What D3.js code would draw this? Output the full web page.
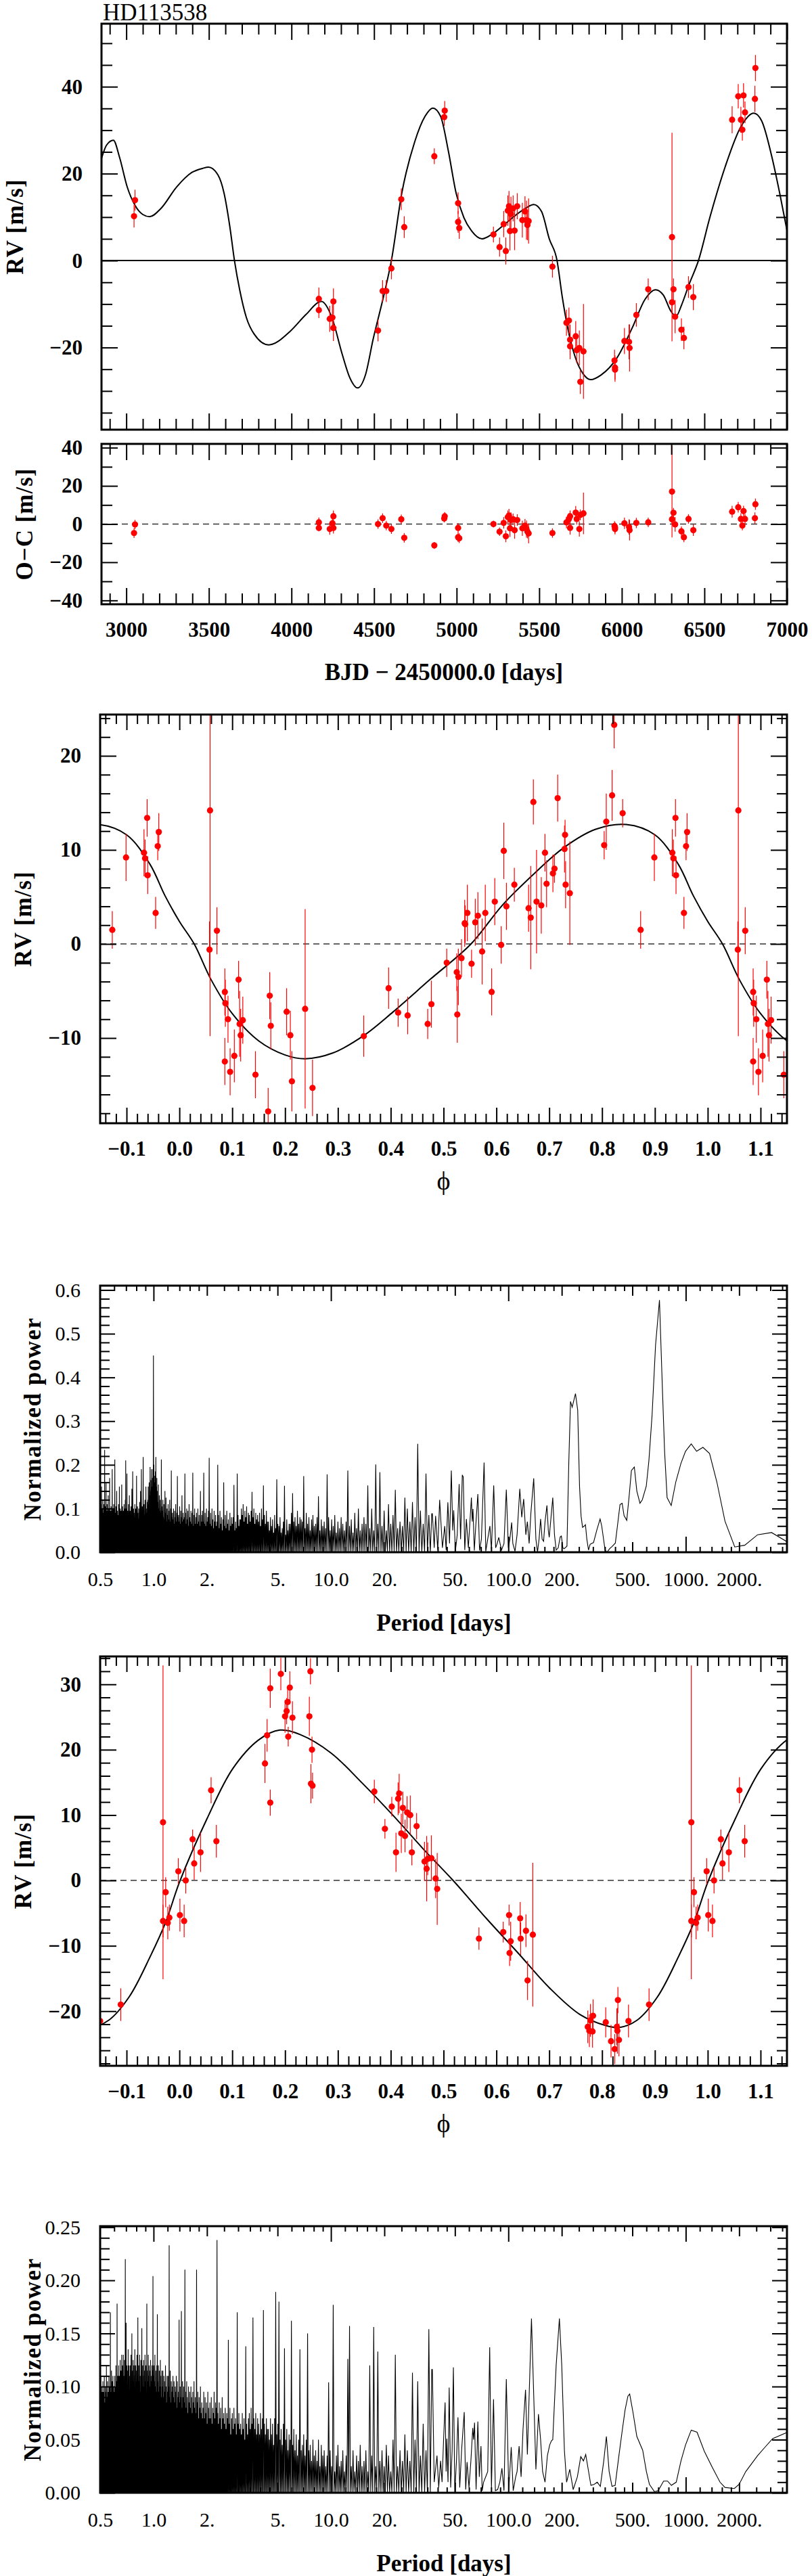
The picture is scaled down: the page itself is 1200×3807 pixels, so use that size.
<!DOCTYPE html>
<html><head><meta charset="utf-8">
<script src="https://d3js.org/d3.v7.min.js"></script>
<style>html,body{margin:0;padding:0;background:#fff;}svg{display:block;}</style>
</head><body>
<svg id="chart" width="1200" height="3807" xmlns="http://www.w3.org/2000/svg"></svg>
<script>
// ================= DATA =================
const title = "HD113538";

// --- RV time series (BJD-2450000, m/s) ---
const rvTime = [3047,3053,4166,4166,4232,4248,4254,4254,4524,4552,4574,4605,4665,4683,4865,4925,4928,5009,5009,5016,5223,5260,5285,5298,5310,5317,5323,5329,5342,5351,5367,5398,5414,5423,5429,5436,5580,5665,5680,5687,5687,5721,5727,5743,5749,5768,5956,5959,5959,6016,6044,6047,6088,6160,6304,6304,6313,6323,6361,6376,6404,6433,6668,6705,6721,6730,6737,6746,6806,6809];
const rvValue = [10.2,13.9,-8.8,-11.4,-13.4,-13.1,-15.5,-9.4,-16.1,-7.0,-7.0,-1.8,14.1,7.7,24.0,33.0,34.5,13.2,8.9,7.5,6.0,3.1,8.4,2.2,11.5,12.5,6.8,10.7,12.0,6.9,12.5,9.3,11.3,9.3,8.2,9.1,-1.4,-14.3,-13.8,-18.2,-19.7,-17.4,-20.6,-20.1,-27.9,-20.9,-23.0,-24.6,-25.1,-18.5,-18.7,-20.1,-12.5,-6.6,5.4,-9.6,-6.6,-12.9,-15.9,-17.8,-6.1,-8.4,32.4,37.8,32.4,30.1,38.0,34.1,37.2,44.3];
const rvError = [2.6,2.4,2.6,1.8,3.0,3.0,3.0,3.0,2.5,2.5,2.5,2.5,2.5,2.5,1.8,2.0,2.2,2.5,2.5,2.5,1.8,2.2,3.0,3.1,3.5,3.5,4.5,4.0,3.0,4.5,3.0,4.0,3.5,4.5,3.5,5.2,2.5,3.0,3.0,3.5,3.0,3.5,3.0,4.0,2.8,10.9,2.5,2.8,2.8,3.0,4.0,5.4,2.7,2.5,24,2.5,2.5,3.8,2.6,2.6,2.5,3.0,3.1,2.8,3.0,2.5,2.8,2.5,3.0,3.0];
const ocValue = [-4.7,-0.2,0.9,-2.0,-2.6,0.4,-2.0,4.1,0.0,3.1,-0.8,-2.6,2.5,-7.2,-11.2,2.9,4.1,-2.0,-6.9,-7.4,0.0,-4.0,0.6,-6.4,3.6,4.5,-2.2,2.1,2.5,-3.2,2.1,-2.2,-0.8,-2.6,-4.0,-4.9,-4.7,0.9,2.7,-2.0,4.1,6.0,2.7,-2.6,4.8,5.6,-1.0,-2.6,-1.8,0.4,-1.5,-3.2,0.6,0.9,17.0,2.5,5.9,-0.2,-3.8,-6.9,2.7,-3.2,6.5,8.8,2.7,-0.8,6.8,2.7,3.1,10.4];
// two-planet model curve
const modelTime = [2850,2881,2922,2959,3006,3053,3100,3141,3210,3304,3398,3461,3498,3555,3592,3627,3655,3687,3727,3774,3862,3994,4088,4182,4245,4307,4354,4401,4448,4495,4558,4605,4668,4746,4809,4856,4903,4950,4997,5044,5091,5154,5216,5295,5373,5420,5467,5514,5561,5608,5639,5671,5718,5765,5812,5875,5969,6063,6141,6204,6251,6298,6329,6361,6408,6464,6533,6627,6721,6799,6846,6909,6956,7003];
const modelValue = [23.5,26.6,27.7,23.8,16.9,12.7,10.6,10.1,12.0,16.9,20.3,21.2,21.5,19.7,15.5,7.8,0,-6.8,-13.1,-16.9,-19.4,-16.2,-12.4,-9.4,-13.1,-21.5,-27.0,-29.3,-26.3,-18.0,-8.2,0,15.5,27.3,33.2,35.1,33.2,25.2,15.5,9.9,6.8,5.0,6.1,8.5,10.9,12.1,12.9,11.3,5.0,0,-8.2,-15.2,-22.2,-26.0,-27.4,-26.3,-22.5,-15.5,-8.9,-6.7,-7.9,-11.7,-12.8,-10.3,-5.4,0,9.9,21.7,30.8,33.9,32.2,23.8,15.5,6.4];
const timeTicks = [3000,3500,4000,4500,5000,5500,6000,6500,7000];
const rvTicks = [-20,0,20,40];
const ocTicks = [-40,-20,0,20,40];

// --- phase-folded planet 1 ---
const ph1Phase = [0.057,0.058,0.071,0.086,0.087,0.086,0.092,0.096,0.104,0.112,0.114,0.116,0.12,0.144,0.168,0.171,0.173,0.203,0.21,0.213,0.238,0.252,0.349,0.396,0.414,0.432,0.47,0.477,0.506,0.525,0.528,0.526,0.534,0.54,0.545,0.541,0.553,0.56,0.565,0.573,0.579,0.591,0.597,0.609,0.614,0.619,0.634,0.661,0.665,0.67,0.676,0.685,0.692,0.695,0.707,0.71,0.716,0.729,0.73,0.731,0.739,0.804,0.808,0.819,0.823,0.839,0.873,0.899,0.933,0.935,0.939,0.94,0.955,0.959,0.961];
const ph1Value = [-0.6,14.2,1.4,-5.1,-6.3,-12.5,-8.0,-13.6,-11.9,-3.8,-8.5,-9.7,-8.1,-13.9,-17.8,-5.5,-8.7,-7.2,-9.7,-14.6,-6.9,-15.3,-9.8,-4.7,-7.3,-7.6,-8.5,-6.4,-2.0,-3.0,-3.5,-7.5,-1.5,2.2,3.3,2.1,-2.1,2.3,3.0,-0.8,3.3,-5.1,4.5,-0.1,9.9,4.0,6.3,3.8,2.8,15.1,4.5,4.1,9.7,6.4,7.5,8.0,15.5,10.1,11.6,6.3,5.4,10.5,13.0,15.8,23.3,13.9,1.5,9.2,9.7,9.1,13.4,7.3,3.3,10.4,11.9];
const ph1Error = [3.0,24,2.5,2.5,2.5,2.5,2.5,2.5,2.8,2.0,3.5,2.8,2.5,2.5,2.5,2.5,2.5,2.5,2.6,3.2,10.6,3.0,2.2,2.2,1.5,2.0,1.6,2.5,1.5,2.0,3.0,3.0,2.0,2.5,3.0,2.0,1.5,2.5,2.5,3.5,3.0,2.5,2.5,2.0,3.0,2.5,1.8,2.5,5.5,2.4,5.5,3.0,2.0,2.5,2.0,1.5,2.5,2.5,1.6,2.5,5.5,1.5,3.0,2.7,2.5,1.5,2.0,2.5,2.5,2.0,2.0,2.0,1.7,1.5,2.0];
const fit1Phase = [0.0,0.028,0.06,0.1,0.15,0.2,0.238,0.29,0.35,0.405,0.474,0.552,0.611,0.67,0.729,0.788,0.846,0.9,0.944,0.973];
const fit1Value = [2.4,0,-3.8,-7.4,-10.3,-11.8,-12.2,-11.6,-9.7,-7.2,-3.8,0,4.1,7.4,10.3,12.2,12.7,11.6,8.5,5.1];
const ph1Ticks = [-10,0,10,20];

// --- phase-folded planet 2 ---
const ph2Phase = [0.001,0.009,0.012,0.025,0.028,0.040,0.06,0.07,0.162,0.166,0.172,0.172,0.192,0.2,0.203,0.205,0.206,0.209,0.214,0.246,0.248,0.249,0.251,0.252,0.369,0.389,0.402,0.41,0.414,0.416,0.42,0.423,0.427,0.431,0.437,0.44,0.449,0.464,0.468,0.47,0.477,0.485,0.488,0.567,0.613,0.624,0.625,0.627,0.645,0.646,0.656,0.659,0.669,0.773,0.776,0.778,0.782,0.783,0.807,0.817,0.824,0.828,0.829,0.83,0.832,0.85,0.889,0.969,0.969,0.974,0.978,0.981,0.998];
const ph2Value = [-5.3,-6.2,0.0,6.3,2.6,4.3,13.8,6.0,17.9,22.2,29.4,11.9,31.6,25.1,25.9,27.3,22.0,29.5,24.9,25.1,32.0,14.8,20.0,14.5,13.6,7.9,11.3,4.3,12.5,13.3,7.2,11.1,6.8,10.4,10.0,4.3,8.3,2.9,1.8,3.3,3.4,0.3,-1.3,-8.9,-7.9,-5.3,-11.1,-9.3,-5.8,-8.9,-7.7,-15.3,-8.3,-22.4,-23.0,-21.4,-23.1,-20.7,-21.7,-24.6,-25.8,-22.4,-23.0,-18.3,-24.4,-21.5,-19.0,8.9,-6.2,-1.8,-6.5,-5.7,1.4];
const ph2Error = [2.5,2.5,2.0,1.5,2.5,3.0,2.0,2.5,3.0,2.5,3.0,2.0,2.5,2.5,2.0,2.0,1.5,2.5,2.5,3.0,2.0,3.0,2.0,2.0,1.8,1.5,1.5,3.0,2.5,3.0,3.0,2.5,2.5,2.5,3.0,2.0,2.0,3.0,5.0,2.5,3.5,3.0,5.5,1.7,1.6,1.6,2.0,3.0,2.5,2.5,2.5,3.0,11.0,2.5,2.5,2.5,2.5,2.5,2.3,2.5,2.3,2.8,3.5,2.0,2.5,2.5,2.5,24,2.5,2.3,2.5,2.0,2.0];
const fit2Phase = [0.0,0.052,0.101,0.15,0.19,0.229,0.287,0.346,0.405,0.464,0.518,0.582,0.641,0.7,0.758,0.807,0.832,0.866,0.905,0.945,0.974];
const fit2Value = [-0.3,9.4,17.1,21.5,23.0,22.3,19.5,14.9,9.9,4.6,0,-5.9,-11.1,-16.4,-20.5,-22.2,-22.5,-21.4,-17.8,-11.6,-6.4];
const ph2Ticks = [-20,-10,0,10,20,30];
const phaseTicks = [-0.1,0,0.1,0.2,0.3,0.4,0.5,0.6,0.7,0.8,0.9,1.0,1.1];

// --- periodograms ---
const periodTicks = [0.5,1,2,5,10,20,50,100,200,500,1000,2000];
const periodTickLabels = ["0.5","1.0","2.","5.","10.0","20.","50.","100.0","200.","500.","1000.","2000."];
const power1Ticks = [0,0.1,0.2,0.3,0.4,0.5,0.6];
const power2Ticks = [0,0.05,0.10,0.15,0.20,0.25];
// dense short-period part: peak heights (x0.001), 400 peaks from 0.5 d to 37 d
// (peaks spaced evenly in 1/sqrt(period), denser at short periods as in the figure)
const pg1Spikes = [
95,70,110,80,150,60,100,85,120,75, 90,110,70,234,85,105,65,160,95,80,
110,75,95,130,70,100,60,170,85,95, 80,105,70,95,190,85,100,65,110,80,
100,212,90,75,105,80,140,65,95,85, 75,110,85,150,70,100,80,95,65,155,
90,105,70,95,80,110,65,100,120,210, 85,100,180,70,95,75,110,85,130,70,
95,80,105,70,145,85,185,75,100,90, 80,110,70,100,85,175,65,105,90,75,
100,75,115,85,140,70,190,90,105,80, 218,95,110,85,120,80,150,100,90,115,
120,150,110,160,130,195,140,165,190,150, 170,190,450,200,175,160,185,218,150,170,
140,115,155,100,130,95,120,90,212,105, 95,120,80,110,75,140,90,125,70,100,
85,110,75,95,120,70,100,187,80,90, 75,100,65,95,80,110,70,90,174,80,
85,70,105,65,95,80,130,70,90,75, 80,180,90,65,100,75,95,60,110,80,
70,95,65,90,182,60,85,100,65,80, 90,65,100,70,85,60,140,70,85,95,
70,182,65,90,60,100,70,80,95,216, 65,90,60,100,75,55,95,70,85,60,
70,200,85,55,95,65,80,50,75,160, 60,85,55,95,65,75,50,90,60,80,
65,80,154,50,70,55,180,85,60,75, 75,100,85,110,70,95,80,105,65,90,
85,70,95,138,80,100,65,90,75,85, 70,90,60,100,75,153,85,65,95,70,
70,50,80,60,75,45,85,55,167,65, 60,80,45,55,70,152,40,75,50,65,
65,90,135,70,80,60,95,65,80,75, 70,174,55,90,65,80,50,75,85,60,
65,80,128,50,75,60,70,55,178,80, 50,75,60,85,45,70,55,80,65,50,
70,187,60,75,45,90,55,100,50,65, 80,65,153,55,100,50,201,65,183,60,
95,50,110,65,85,143,55,70,60,125, 100,70,115,80,248,95,65,180,85,88];
const pg1TailPeriod = [37.3,38.2,38.9,40,41,42.5,43.8,44.6,45.6,46.6,47.7,48.6,49.2,50.3,51.5,52.8,53.8,55,55.7,56.8,58,59.5,61.9,62.6,63.2,64.3,65.5,67.3,68.8,70.5,73,74.6,76.5,78.7,80.3,82.7,84.8,86.5,88.3,91.5,94.5,97.4,100,102,104.4,106,109,112,116,119,122,125.5,128,131,134,139,143,146,149,152,155,158,161,165,168,170,174,178,182,186,191,196,199,203,206,209,214,219,224,229,239,246,252,257,262,268,272,277,283,289,295,302,315,329,336,351,360,372,384,401,412,426,438,449,465,480,494,513,530,552,569,599,620,646,676,711,739,760,785,828,879,939,997,1074,1151,1250,1362,1497,1664,1889,2150,2541,3047,3720];
const pg1TailPower = [0.088,0.01,0.083,0.005,0.12,0.01,0.06,0.005,0.114,0.02,0.187,0.05,0.096,0.003,0.04,0.156,0.03,0.177,0.172,0.005,0.076,0.01,0.125,0.07,0.099,0.004,0.06,0.133,0.004,0.03,0.205,0.002,0.03,0.06,0.005,0.153,0.01,0.02,0.034,0.005,0.02,0.143,0.01,0.03,0.068,0.02,0.002,0.04,0.145,0.08,0.122,0.04,0.07,0.02,0.09,0.169,0.03,0.0,0.03,0.076,0.03,0.025,0.07,0.107,0.05,0.034,0.08,0.125,0.04,0.005,0.01,0.035,0.037,0.01,0.008,0.01,0.014,0.2,0.345,0.332,0.363,0.325,0.15,0.083,0.057,0.06,0.063,0.03,0.005,0.018,0.02,0.022,0.05,0.076,0.06,0.005,0.0,0.008,0.013,0.021,0.06,0.109,0.112,0.084,0.073,0.13,0.187,0.195,0.14,0.112,0.12,0.151,0.21,0.314,0.475,0.577,0.371,0.23,0.125,0.107,0.161,0.203,0.231,0.248,0.231,0.24,0.226,0.161,0.071,0.012,0.016,0.04,0.045,0.024];
const pg2Spikes = [
90,70,110,80,100,75,95,65,105,85, 95,75,110,85,70,100,80,95,120,75,
90,105,80,95,75,110,85,100,90,170, 95,85,115,90,105,80,110,85,100,95,
90,110,85,100,120,90,105,178,95,110, 100,120,90,110,95,125,85,115,100,130,
105,120,95,130,110,100,125,115,220,110, 160,105,120,95,115,135,100,120,110,95,
120,105,130,110,150,100,115,125,105,120, 110,135,100,120,115,105,130,110,165,105,
120,105,130,110,95,125,115,155,100,120, 110,125,100,115,130,105,120,95,178,115,
105,130,110,120,100,115,125,110,105,120, 115,204,110,120,105,130,100,115,95,120,
168,105,120,95,115,100,125,110,90,115, 100,115,90,110,105,95,120,100,85,110,
95,110,100,233,90,115,85,105,95,100, 110,90,105,85,100,95,110,80,105,90,
95,163,85,100,90,171,80,105,90,100, 85,210,95,80,105,90,75,100,85,95,
80,100,90,75,95,85,105,80,90,75, 210,85,95,70,90,80,100,75,85,70,
80,95,70,90,75,85,65,95,80,70, 85,70,90,65,80,75,95,70,85,80,
238,75,65,85,70,80,60,90,70,75, 65,80,60,75,70,144,65,80,55,70,
75,60,80,65,70,55,170,65,75,60, 65,55,75,60,70,50,138,65,55,70,
75,60,80,65,165,70,60,75,55,70, 65,55,75,60,70,172,65,55,70,60,
60,50,70,55,65,45,70,189,55,65, 180,50,60,45,65,136,50,60,40,55,
50,162,45,60,40,55,35,50,135,40, 45,55,35,50,150,40,45,30,50,35,
40,30,50,25,45,35,40,25,35,104, 40,25,177,20,35,45,25,30,40,20,
35,126,157,25,40,20,35,30,45,25, 30,40,20,120,35,156,25,133,30,40,
25,45,35,20,50,130,25,40,30,55, 40,30,113,50,105,35,65,40,154,116];
const pg2TailPeriod = [37.3,38.2,39.6,40.5,41.5,42.3,43.1,44,44.6,45,45.7,46.4,47.3,48.2,49,49.9,51,52,53.2,54.5,56.4,57.5,58.5,60,61.5,63,63.7,64.5,65.8,67.3,68.6,70.1,71.2,72.5,74.5,76.5,78.5,80.3,82.5,84.5,87,89.5,92,94.5,97.4,100.5,103.8,106.5,110,112,115,118,121,125,128,135,143,147.8,152,156,161,166,171,175,178,186,194,200,207,213,222,232,245,256,265,273,292,305,317,330,345,357,370,384,400,420,438,455,472,483,505,530,572,600,624,666,700,750,790,830,884,940,997,1074,1158,1273,1410,1560,1664,1878,2000,2180,2541,2800,3090,3745];
const pg2TailPower = [0.116,0.01,0.035,0.005,0.03,0.01,0.048,0.085,0.02,0.051,0.01,0.099,0.005,0.04,0.118,0.0,0.03,0.071,0.005,0.04,0.076,0.003,0.029,0.005,0.03,0.061,0.05,0.066,0.003,0.067,0.015,0.044,0.002,0.01,0.015,0.02,0.137,0.004,0.088,0.002,0.003,0.01,0.023,0.002,0.107,0.002,0.043,0.002,0.015,0.02,0.044,0.015,0.06,0.097,0.036,0.164,0.022,0.074,0.05,0.02,0.01,0.035,0.045,0.049,0.05,0.12,0.164,0.12,0.04,0.01,0.022,0.003,0.015,0.034,0.03,0.036,0.007,0.008,0.010,0.006,0.03,0.053,0.02,0.006,0.007,0.035,0.058,0.078,0.091,0.093,0.075,0.053,0.04,0.02,0.008,0.001,0.002,0.011,0.011,0.007,0.010,0.03,0.045,0.059,0.057,0.039,0.024,0.01,0.005,0.004,0.008,0.020,0.035,0.043,0.051,0.057];

// ================= DRAWING =================
const svg = d3.select("#chart");
const SERIF = "'Liberation Serif','Times New Roman',Times,serif";
const RED = "#ff0000";
let clipCount = 0;

function makeClip(p){
  const id = "clip" + (clipCount++);
  svg.append("clipPath").attr("id", id).append("rect")
    .attr("x", p.x0).attr("y", p.y0).attr("width", p.x1 - p.x0).attr("height", p.y1 - p.y0);
  return "url(#" + id + ")";
}
function drawFrame(p){
  svg.append("rect").attr("x", p.x0).attr("y", p.y0).attr("width", p.x1 - p.x0).attr("height", p.y1 - p.y0)
    .attr("fill", "none").attr("stroke", "#000").attr("stroke-width", 3);
}
function axis(gen, scale, values, len, tf, opts){
  opts = opts || {};
  const a = gen(scale).tickValues(values).tickSizeInner(-len).tickSizeOuter(0);
  if (opts.format) a.tickFormat(opts.format).tickPadding(opts.pad); else a.tickFormat(() => "");
  const g = svg.append("g").attr("transform", tf).call(a);
  g.select(".domain").remove();
  g.selectAll(".tick line").attr("stroke", "#000").attr("stroke-width", 2);
  g.attr("font-family", SERIF).attr("font-size", opts.size || 10).attr("font-weight", opts.weight || "normal");
  g.selectAll(".tick text").attr("fill", "#000");
  return g;
}
function label(x, y, str, size, weight, rotate, spacing){
  const t = svg.append("text").attr("font-family", SERIF).attr("font-size", size)
    .attr("font-weight", weight).attr("text-anchor", "middle").attr("fill", "#000").text(str);
  if (spacing) t.attr("letter-spacing", spacing);
  if (rotate) t.attr("transform", `translate(${x},${y}) rotate(-90)`).attr("dy", "0.35em");
  else t.attr("x", x).attr("y", y);
  return t;
}
function minorValues(lo, hi, step, majorStep){
  const out = [];
  const n0 = Math.ceil(lo / step - 1e-9), n1 = Math.floor(hi / step + 1e-9);
  for (let n = n0; n <= n1; n++){
    const v = +(n * step).toFixed(6);
    const r = v / majorStep;
    if (Math.abs(r - Math.round(r)) > 1e-6) out.push(v);
  }
  return out;
}
function drawPoints(g, pts, xs, ys){
  g.selectAll(null).data(pts).enter().append("line")
    .attr("x1", d => xs(d.x)).attr("x2", d => xs(d.x))
    .attr("y1", d => ys(d.v - d.e)).attr("y2", d => ys(d.v + d.e))
    .attr("stroke", RED).attr("stroke-width", 1.2);
  g.selectAll(null).data(pts).enter().append("circle")
    .attr("cx", d => xs(d.x)).attr("cy", d => ys(d.v)).attr("r", 4.6).attr("fill", RED);
}
const BOLD_TICK = {size: 31, weight: "bold"};

// ---------- Title ----------
svg.append("text").attr("x", 152).attr("y", 30).attr("font-family", SERIF).attr("font-size", 35).attr("fill", "#000").text(title);

// ---------- Panel 1: RV vs time ----------
{
  const p = {x0: 150, x1: 1163, y0: 35, y1: 635};
  const xs = d3.scaleLinear().domain([2850, 7000]).range([p.x0, p.x1]);
  const ys = d3.scaleLinear().domain([-38.9, 54.5]).range([p.y1, p.y0]);
  const clip = makeClip(p);
  const g = svg.append("g").attr("clip-path", clip);
  g.append("line").attr("x1", p.x0).attr("x2", p.x1).attr("y1", ys(0)).attr("y2", ys(0)).attr("stroke", "#000").attr("stroke-width", 2);
  const model = modelTime.map((t, i) => [t, modelValue[i]]);
  g.append("path").attr("d", d3.line().x(d => xs(d[0])).y(d => ys(d[1])).curve(d3.curveMonotoneX)(model))
    .attr("fill", "none").attr("stroke", "#000").attr("stroke-width", 2);
  drawPoints(g, rvTime.map((t, i) => ({x: t, v: rvValue[i], e: rvError[i]})), xs, ys);
  const xMinor = minorValues(2850, 7000, 100, 500);
  axis(d3.axisTop, xs, timeTicks, 24, `translate(0,${p.y0})`);
  axis(d3.axisTop, xs, xMinor, 16, `translate(0,${p.y0})`);
  axis(d3.axisBottom, xs, timeTicks, 24, `translate(0,${p.y1})`);
  axis(d3.axisBottom, xs, xMinor, 16, `translate(0,${p.y1})`);
  const yMinor = minorValues(-38.9, 54.5, 5, 20);
  axis(d3.axisLeft, ys, rvTicks, 24, `translate(${p.x0},0)`, Object.assign({format: d3.format("d"), pad: 28}, BOLD_TICK));
  axis(d3.axisLeft, ys, yMinor, 16, `translate(${p.x0},0)`);
  axis(d3.axisRight, ys, rvTicks, 24, `translate(${p.x1},0)`);
  axis(d3.axisRight, ys, yMinor, 16, `translate(${p.x1},0)`);
  drawFrame(p);
  label(22, (p.y0 + p.y1) / 2, "RV [m/s]", 35, "bold", true, 1);
}

// ---------- Panel 2: O-C ----------
{
  const p = {x0: 150, x1: 1163, y0: 656, y1: 893};
  const xs = d3.scaleLinear().domain([2850, 7000]).range([p.x0, p.x1]);
  const ys = d3.scaleLinear().domain([-42, 42]).range([p.y1, p.y0]);
  const clip = makeClip(p);
  const g = svg.append("g").attr("clip-path", clip);
  g.append("line").attr("x1", p.x0).attr("x2", p.x1).attr("y1", ys(0)).attr("y2", ys(0))
    .attr("stroke", "#333").attr("stroke-width", 1.6).attr("stroke-dasharray", "9,6");
  drawPoints(g, rvTime.map((t, i) => ({x: t, v: ocValue[i], e: rvError[i]})), xs, ys);
  const xMinor = minorValues(2850, 7000, 100, 500);
  axis(d3.axisTop, xs, timeTicks, 24, `translate(0,${p.y0})`);
  axis(d3.axisTop, xs, xMinor, 16, `translate(0,${p.y0})`);
  axis(d3.axisBottom, xs, timeTicks, 24, `translate(0,${p.y1})`, Object.assign({format: d3.format("d"), pad: 26}, BOLD_TICK));
  axis(d3.axisBottom, xs, xMinor, 16, `translate(0,${p.y1})`);
  const yMinor = [-30, -10, 10, 30];
  axis(d3.axisLeft, ys, ocTicks, 24, `translate(${p.x0},0)`, Object.assign({format: d3.format("d"), pad: 28}, BOLD_TICK));
  axis(d3.axisLeft, ys, yMinor, 16, `translate(${p.x0},0)`);
  axis(d3.axisRight, ys, ocTicks, 24, `translate(${p.x1},0)`);
  axis(d3.axisRight, ys, yMinor, 16, `translate(${p.x1},0)`);
  drawFrame(p);
  label(36, (p.y0 + p.y1) / 2, "O\u2212C [m/s]", 35, "bold", true, 1);
  label(656, 1005, "BJD \u2212 2450000.0 [days]", 35, "bold");
}

// ---------- Phase panels ----------
function phasePanel(p, yDom, phases, values, errors, fitP, fitV, yTicks){
  const xs = d3.scaleLinear().domain([-0.15, 1.15]).range([p.x0, p.x1]);
  const ys = d3.scaleLinear().domain(yDom).range([p.y1, p.y0]);
  const clip = makeClip(p);
  const g = svg.append("g").attr("clip-path", clip);
  g.append("line").attr("x1", p.x0).attr("x2", p.x1).attr("y1", ys(0)).attr("y2", ys(0))
    .attr("stroke", "#333").attr("stroke-width", 1.6).attr("stroke-dasharray", "9,6");
  const fit = [];
  [-1, 0, 1, 2].forEach(s => fitP.forEach((ph, i) => fit.push([ph + s, fitV[i]])));
  const fitShown = fit.filter(d => d[0] >= -0.35 && d[0] <= 1.35);
  g.append("path").attr("d", d3.line().x(d => xs(d[0])).y(d => ys(d[1])).curve(d3.curveCatmullRom.alpha(0.5))(fitShown))
    .attr("fill", "none").attr("stroke", "#000").attr("stroke-width", 2);
  const pts = [];
  phases.forEach((ph, i) => [-1, 0, 1].forEach(s => {
    const q = ph + s;
    if (q >= -0.16 && q <= 1.16) pts.push({x: q, v: values[i], e: errors[i]});
  }));
  drawPoints(g, pts, xs, ys);
  const xMinor = minorValues(-0.15, 1.15, 0.02, 0.1);
  axis(d3.axisTop, xs, phaseTicks, 23, `translate(0,${p.y0})`);
  axis(d3.axisTop, xs, xMinor, 14, `translate(0,${p.y0})`);
  axis(d3.axisBottom, xs, phaseTicks, 23, `translate(0,${p.y1})`, Object.assign({format: d3.format(".1f"), pad: 26}, BOLD_TICK));
  axis(d3.axisBottom, xs, xMinor, 14, `translate(0,${p.y1})`);
  const yMinor = minorValues(yDom[0], yDom[1], 2, 10);
  axis(d3.axisLeft, ys, yTicks, 24, `translate(${p.x0},0)`, Object.assign({format: d3.format("d"), pad: 28}, BOLD_TICK));
  axis(d3.axisLeft, ys, yMinor, 15, `translate(${p.x0},0)`);
  axis(d3.axisRight, ys, yTicks, 24, `translate(${p.x1},0)`);
  axis(d3.axisRight, ys, yMinor, 15, `translate(${p.x1},0)`);
  drawFrame(p);
  label(34, (p.y0 + p.y1) / 2, "RV [m/s]", 35, "bold", true, 1);
  label((p.x0 + p.x1) / 2, p.y1 + 98, "\u03D5", 38, "normal");
}
phasePanel({x0: 148, x1: 1163, y0: 1056, y1: 1660}, [-19.06, 24.39], ph1Phase, ph1Value, ph1Error, fit1Phase, fit1Value, ph1Ticks);
phasePanel({x0: 148, x1: 1163, y0: 2448, y1: 3053}, [-28.36, 34.27], ph2Phase, ph2Value, ph2Error, fit2Phase, fit2Value, ph2Ticks);

// ---------- Periodogram panels ----------
function periodogramPanel(p, yMax, spikes, tailP, tailV, yTicks, yMinorStep, yMajorStep, fmt){
  const xs = d3.scaleLog().domain([0.5, 3720]).range([p.x0, p.x1]);
  const ys = d3.scaleLinear().domain([0, yMax]).range([p.y1, p.y0]);
  const clip = makeClip(p);
  const g = svg.append("g").attr("clip-path", clip);
  // dense part: peaks on a grid even in 1/sqrt(P), dipping to zero between neighbours
  const n = spikes.length, qLo = Math.pow(0.5, -0.5), qHi = Math.pow(37, -0.5);
  const grid = spikes.map((s, i) => Math.pow(qLo + (qHi - qLo) * i / (n - 1), -2));
  const pts = [];
  spikes.forEach((s, i) => {
    if (i > 0) pts.push([Math.sqrt(grid[i] * grid[i - 1]), 0]);
    pts.push([grid[i], s / 1000]);
  });
  tailP.forEach((per, i) => pts.push([per, tailV[i]]));
  g.append("path").attr("d", d3.line().x(d => xs(d[0])).y(d => ys(d[1]))(pts))
    .attr("fill", "none").attr("stroke", "#000").attr("stroke-width", 1.1);
  // ticks
  const decades = [1, 10, 100, 1000];
  const medium = [2, 5, 20, 50, 200, 500, 2000];
  const minor = [];
  [0.1, 1, 10, 100, 1000].forEach(d => [1.2, 1.4, 1.6, 1.8, 2.5, 3, 3.5, 4, 4.5, 6, 7, 8, 9].forEach(m => {
    const v = +(m * d).toPrecision(6);
    if (v > 0.5 && v < 3720) minor.push(v);
  }));
  [[d3.axisTop, p.y0], [d3.axisBottom, p.y1]].forEach(([gen, y]) => {
    axis(gen, xs, decades, 23, `translate(0,${y})`);
    axis(gen, xs, medium, 15, `translate(0,${y})`);
    axis(gen, xs, minor, 8, `translate(0,${y})`);
  });
  axis(d3.axisBottom, xs, periodTicks, 0, `translate(0,${p.y1})`,
    {format: d => periodTickLabels[periodTicks.indexOf(d)], pad: 29, size: 30, weight: "normal"});
  const yMinor = minorValues(0, yMax, yMinorStep, yMajorStep);
  axis(d3.axisLeft, ys, yTicks, 22, `translate(${p.x0},0)`, {format: d3.format(fmt), pad: 29, size: 30, weight: "normal"});
  axis(d3.axisLeft, ys, yMinor, 14, `translate(${p.x0},0)`);
  axis(d3.axisRight, ys, yTicks, 22, `translate(${p.x1},0)`);
  axis(d3.axisRight, ys, yMinor, 14, `translate(${p.x1},0)`);
  drawFrame(p);
  label(48, (p.y0 + p.y1) / 2, "Normalized power", 35, "bold", true, 1.5);
  label(656, p.y1 + 116, "Period [days]", 35, "bold");
}
periodogramPanel({x0: 148, x1: 1163, y0: 1900, y1: 2294}, 0.61, pg1Spikes, pg1TailPeriod, pg1TailPower, power1Ticks, 0.02, 0.1, ".1f");
periodogramPanel({x0: 148, x1: 1163, y0: 3290, y1: 3684}, 0.251, pg2Spikes, pg2TailPeriod, pg2TailPower, power2Ticks, 0.01, 0.05, ".2f");
</script>
</body></html>
